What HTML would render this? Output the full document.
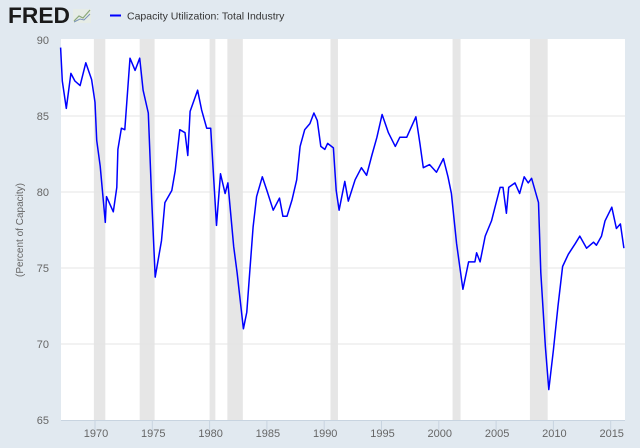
<!DOCTYPE html>
<html><head><meta charset="utf-8"><style>
body{margin:0;width:640px;height:448px;background:#e1e9f0;overflow:hidden;font-family:"Liberation Sans",sans-serif}
svg{position:absolute;left:0;top:0}
</style></head><body>
<svg width="640" height="448">
<text x="8" y="23" font-size="22" font-weight="bold" fill="#1a1a1a" textLength="62" lengthAdjust="spacingAndGlyphs">FRED</text>
<g>
<rect x="73" y="9" width="18" height="14" fill="#e6ece6"/>
<polyline points="74,21 79,16 83,18 90,10" fill="none" stroke="#8aa87a" stroke-width="1.2"/>
<polyline points="74,22 80,19 84,20 90,14" fill="none" stroke="#7a94b8" stroke-width="1"/>
</g>
<line x1="110" y1="15.5" x2="121" y2="15.5" stroke="#0000ff" stroke-width="2"/>
<text x="127" y="19.5" font-size="10.5" fill="#333">Capacity Utilization: Total Industry</text>
<rect x="61" y="39" width="564" height="381" fill="#fff"/>
<g id="rec"></g><g id="grid"></g><g id="ax"></g>
<text transform="translate(23,230) rotate(-90)" text-anchor="middle" font-size="10" fill="#666">(Percent of Capacity)</text>
<path id="line" fill="none" stroke="#0000ff" stroke-width="1.5" stroke-linejoin="round"/>
</svg>
<script>
const years=[1967.0,1967.15,1967.5,1967.9,1968.25,1968.7,1969.2,1969.7,1970.0,1970.15,1970.45,1970.9,1971.0,1971.6,1971.9,1972.0,1972.3,1972.6,1973.05,1973.5,1973.9,1974.2,1974.65,1974.95,1975.25,1975.8,1976.1,1976.7,1977.0,1977.4,1977.85,1978.1,1978.3,1978.95,1979.3,1979.75,1980.1,1980.6,1980.95,1981.35,1981.6,1982.1,1982.4,1982.95,1983.25,1983.5,1983.8,1984.1,1984.6,1985.0,1985.55,1986.1,1986.4,1986.75,1987.2,1987.6,1987.9,1988.3,1988.75,1989.1,1989.4,1989.7,1990.05,1990.3,1990.8,1991.05,1991.3,1991.8,1992.1,1992.7,1993.25,1993.7,1994.15,1994.6,1995.05,1995.6,1996.2,1996.6,1997.2,1998.0,1998.35,1998.65,1999.2,1999.8,2000.4,2000.8,2001.1,2001.55,2002.1,2002.6,2003.15,2003.3,2003.6,2004.05,2004.6,2004.9,2005.35,2005.6,2005.9,2006.1,2006.65,2007.05,2007.45,2007.8,2008.1,2008.7,2008.9,2009.3,2009.6,2010.0,2010.4,2010.8,2011.3,2011.9,2012.3,2012.9,2013.5,2013.75,2014.2,2014.5,2015.1,2015.5,2015.85,2016.15];
const values=[89.5,87.3,85.5,87.8,87.3,87.0,88.5,87.4,85.9,83.4,81.7,78.0,79.7,78.7,80.3,82.8,84.2,84.1,88.8,88.0,88.8,86.7,85.2,79.5,74.4,76.8,79.3,80.1,81.4,84.1,83.9,82.4,85.3,86.7,85.4,84.2,84.2,77.8,81.2,79.9,80.6,76.4,74.7,71.0,72.1,74.7,77.7,79.7,81.0,80.1,78.8,79.6,78.4,78.4,79.5,80.8,83.0,84.1,84.5,85.2,84.7,83.0,82.8,83.2,82.9,80.1,78.8,80.7,79.4,80.8,81.6,81.1,82.4,83.6,85.1,83.9,83.0,83.6,83.6,84.95,83.2,81.6,81.8,81.3,82.2,81.0,79.9,76.6,73.6,75.4,75.4,76.0,75.4,77.1,78.1,79.0,80.3,80.3,78.6,80.3,80.6,79.9,81.0,80.6,80.9,79.3,74.7,69.8,67.0,69.6,72.5,75.1,75.9,76.6,77.1,76.3,76.7,76.5,77.1,78.1,79.0,77.6,77.9,76.3];
const recStart=[1969.9,1973.9,1980.0,1981.55,1990.55,2001.2,2007.95];
const recEnd=[1970.9,1975.2,1980.5,1982.9,1991.2,2001.9,2009.5];
const yTicks=[65,70,75,80,85,90];
const xTicks=[1970,1975,1980,1985,1990,1995,2000,2005,2010,2015];
const NS="http://www.w3.org/2000/svg";
const X=y=>95+(y-1970)*11.46;
const Y=v=>40+(90-v)*15.2;
function mk(tag,at,parent){const e=document.createElementNS(NS,tag);for(const k in at)e.setAttribute(k,at[k]);document.getElementById(parent).appendChild(e);return e;}
recStart.forEach((s,i)=>{const r=mk('rect',{x:X(s),y:39,width:X(recEnd[i])-X(s),height:381,fill:'#e6e6e6'},'rec');

});
yTicks.forEach(t=>{if(t>65&&t<90){const l=mk('line',{x1:61,x2:625,y1:Y(t),y2:Y(t),stroke:'#e4e4e4','stroke-width':1},'grid');

}
const tx=mk('text',{x:49,y:Y(t)+4,'text-anchor':'end','font-size':11,fill:'#666'},'ax');tx.textContent=t;

});
mk('line',{x1:61,x2:625,y1:420.5,y2:420.5,stroke:'#c8d4e0','stroke-width':1},'ax');
xTicks.forEach(t=>{const l=mk('line',{x1:X(t),x2:X(t),y1:420,y2:430,stroke:'#c8d4e0'},'ax');


const tx=mk('text',{x:X(t)+1,y:437,'text-anchor':'middle','font-size':11,fill:'#666'},'ax');tx.textContent=t;

});
document.getElementById('line').setAttribute('d',years.map((y,i)=>(i?'L':'M')+X(y).toFixed(1)+','+Y(values[i]).toFixed(1)).join(''));
</script>
</body></html>
